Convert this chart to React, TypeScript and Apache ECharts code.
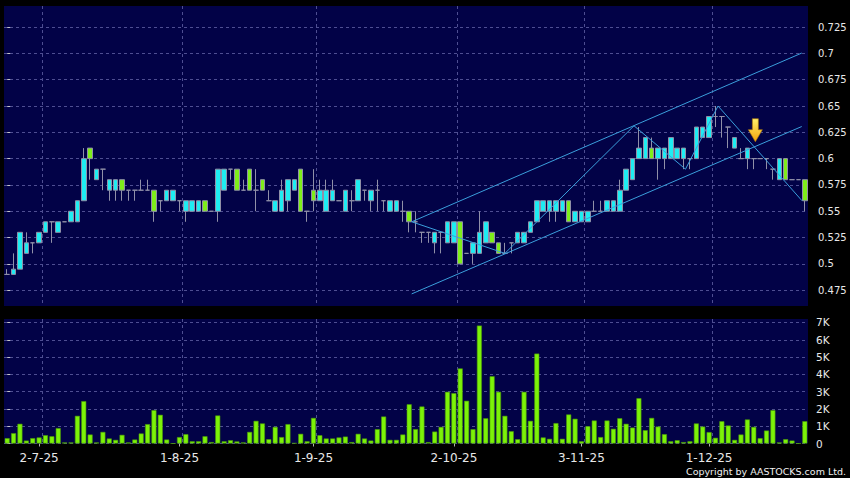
import React, { useEffect, useRef } from 'react';
import * as echarts from 'echarts';

// ---- data ----
const startDate = '2025-06-24';
const holidays = ['2025-07-01', '2025-10-01', '2025-10-07', '2025-10-29'];

// [open, close, low, high]
const ohlc: number[][] = [
  [0.49, 0.49, 0.49, 0.495], [0.49, 0.495, 0.49, 0.51], [0.495, 0.53, 0.495, 0.53], [0.51, 0.52, 0.51, 0.53],
  [0.52, 0.52, 0.51, 0.52], [0.52, 0.53, 0.52, 0.53], [0.53, 0.54, 0.53, 0.54], [0.54, 0.54, 0.52, 0.54],
  [0.53, 0.54, 0.53, 0.54], [0.54, 0.54, 0.54, 0.54], [0.54, 0.55, 0.54, 0.55], [0.54, 0.56, 0.54, 0.56],
  [0.56, 0.60, 0.56, 0.61], [0.61, 0.60, 0.58, 0.61], [0.58, 0.59, 0.58, 0.59], [0.59, 0.59, 0.57, 0.59],
  [0.57, 0.58, 0.56, 0.58], [0.57, 0.58, 0.56, 0.58], [0.58, 0.57, 0.56, 0.58], [0.57, 0.57, 0.56, 0.57],
  [0.57, 0.57, 0.56, 0.57], [0.57, 0.57, 0.57, 0.58], [0.57, 0.57, 0.57, 0.58], [0.57, 0.55, 0.54, 0.57],
  [0.56, 0.56, 0.55, 0.56], [0.56, 0.57, 0.56, 0.57], [0.56, 0.57, 0.56, 0.57], [0.56, 0.56, 0.55, 0.56],
  [0.55, 0.56, 0.54, 0.56], [0.55, 0.56, 0.55, 0.56], [0.55, 0.56, 0.55, 0.56], [0.56, 0.55, 0.55, 0.56],
  [0.55, 0.55, 0.55, 0.55], [0.55, 0.59, 0.54, 0.59], [0.57, 0.59, 0.57, 0.59], [0.59, 0.59, 0.58, 0.59],
  [0.59, 0.57, 0.57, 0.59], [0.57, 0.57, 0.57, 0.58], [0.59, 0.57, 0.57, 0.59], [0.57, 0.57, 0.55, 0.59],
  [0.58, 0.57, 0.57, 0.58], [0.56, 0.56, 0.56, 0.57], [0.55, 0.56, 0.55, 0.56], [0.55, 0.57, 0.55, 0.58],
  [0.56, 0.58, 0.55, 0.58], [0.57, 0.58, 0.57, 0.58], [0.59, 0.55, 0.55, 0.59], [0.55, 0.55, 0.54, 0.55],
  [0.57, 0.56, 0.55, 0.59], [0.56, 0.57, 0.56, 0.58], [0.55, 0.57, 0.55, 0.58], [0.56, 0.57, 0.56, 0.58],
  [0.56, 0.56, 0.56, 0.56], [0.55, 0.57, 0.55, 0.57], [0.56, 0.56, 0.55, 0.57], [0.56, 0.58, 0.56, 0.58],
  [0.57, 0.57, 0.56, 0.57], [0.56, 0.57, 0.55, 0.57], [0.57, 0.57, 0.55, 0.58], [0.56, 0.56, 0.55, 0.56],
  [0.55, 0.56, 0.55, 0.56], [0.55, 0.56, 0.55, 0.56], [0.55, 0.55, 0.54, 0.56], [0.55, 0.54, 0.53, 0.55],
  [0.54, 0.54, 0.53, 0.55], [0.53, 0.53, 0.52, 0.53], [0.53, 0.53, 0.52, 0.53], [0.52, 0.53, 0.51, 0.53],
  [0.53, 0.53, 0.51, 0.53], [0.52, 0.54, 0.52, 0.54], [0.52, 0.54, 0.52, 0.54], [0.54, 0.50, 0.50, 0.54],
  [0.51, 0.51, 0.51, 0.51], [0.51, 0.52, 0.50, 0.52], [0.51, 0.53, 0.51, 0.55], [0.52, 0.54, 0.52, 0.54],
  [0.53, 0.52, 0.52, 0.53], [0.52, 0.51, 0.51, 0.52], [0.51, 0.51, 0.51, 0.52], [0.52, 0.52, 0.51, 0.52],
  [0.52, 0.53, 0.52, 0.53], [0.52, 0.53, 0.52, 0.53], [0.53, 0.54, 0.53, 0.54], [0.54, 0.56, 0.54, 0.56],
  [0.55, 0.56, 0.55, 0.56], [0.55, 0.56, 0.54, 0.56], [0.55, 0.56, 0.54, 0.56], [0.55, 0.56, 0.55, 0.56],
  [0.56, 0.54, 0.54, 0.56], [0.54, 0.55, 0.54, 0.55], [0.54, 0.55, 0.54, 0.55], [0.54, 0.55, 0.54, 0.55],
  [0.55, 0.55, 0.55, 0.56], [0.55, 0.55, 0.55, 0.56], [0.55, 0.56, 0.55, 0.56], [0.55, 0.56, 0.55, 0.56],
  [0.55, 0.57, 0.55, 0.58], [0.57, 0.59, 0.57, 0.59], [0.58, 0.60, 0.58, 0.60], [0.60, 0.61, 0.60, 0.63],
  [0.60, 0.62, 0.60, 0.62], [0.61, 0.60, 0.60, 0.62], [0.60, 0.61, 0.58, 0.61], [0.60, 0.61, 0.59, 0.61],
  [0.60, 0.62, 0.60, 0.62], [0.60, 0.61, 0.60, 0.61], [0.60, 0.61, 0.59, 0.61], [0.60, 0.60, 0.59, 0.60],
  [0.60, 0.63, 0.60, 0.63], [0.62, 0.63, 0.62, 0.63], [0.62, 0.64, 0.62, 0.64], [0.64, 0.64, 0.63, 0.65],
  [0.64, 0.64, 0.62, 0.64], [0.63, 0.63, 0.61, 0.63], [0.61, 0.62, 0.61, 0.62], [0.60, 0.60, 0.60, 0.61],
  [0.60, 0.61, 0.59, 0.61], [0.60, 0.60, 0.59, 0.60], [0.60, 0.60, 0.60, 0.60], [0.60, 0.60, 0.59, 0.60],
  [0.59, 0.59, 0.58, 0.59], [0.58, 0.60, 0.58, 0.60], [0.60, 0.58, 0.58, 0.60], [0.58, 0.58, 0.58, 0.58],
  [0.58, 0.58, 0.58, 0.58], [0.58, 0.56, 0.55, 0.58],
];

// volume, thousands
const volumes: number[] = [
  0.31, 0.6, 1.14, 0.17, 0.31, 0.35, 0.48, 0.42, 0.89, 0.06, 0.06, 1.6, 2.45, 0.52, 0.06, 0.67,
  0.29, 0.21, 0.5, 0.06, 0.23, 0.58, 1.12, 1.93, 1.66, 0.23, 0, 0.37, 0.54, 0.13, 0.13, 0.42,
  0.08, 1.62, 0.13, 0.19, 0.12, 0.06, 0.67, 1.31, 1.16, 0.25, 0.96, 0.37, 1.12, 0.02, 0.56, 0.13,
  1.48, 0.48, 0.29, 0.29, 0.35, 0.4, 0.08, 0.56, 0.29, 0.17, 0.83, 1.56, 0.21, 0.21, 0.52, 2.27,
  0.83, 2.14, 0.08, 0.69, 0.96, 2.99, 2.91, 4.34, 2.47, 0.83, 6.82, 1.46, 3.89, 2.99, 1.6, 0.71,
  0.25, 2.99, 1.31, 5.2, 0.35, 0.27, 1.18, 0.27, 1.68, 1.43, 0.13, 1.0, 1.33, 0.37, 1.33, 0.85,
  1.46, 1.14, 0.92, 2.62, 0.77, 1.48, 0.98, 0.54, 0.13, 0.19, 0.08, 0.13, 1.16, 0.98, 0.66, 0.33,
  1.29, 1.04, 0.21, 0.52, 1.39, 0.96, 0.31, 0.75, 1.93, 0.06, 0.25, 0.17, 0, 1.29,
];

const priceTicks = [0.475, 0.5, 0.525, 0.55, 0.575, 0.6, 0.625, 0.65, 0.675, 0.7, 0.725];
const volumeTicks = [0, 1, 2, 3, 4, 5, 6, 7];

// trend lines, [bar index, price]
const channelUpper = [[63.39, 0.54], [124.52, 0.7003]];
const channelLower = [[63.39, 0.4715], [124.52, 0.6305]];
const zigzag = [[63.39, 0.54], [78.0, 0.51], [98.23, 0.6312], [106.3, 0.59], [111.4, 0.65], [124.56, 0.56]];
const arrowAt = [117.25, 0.627];

// ---- helpers ----
function tradingDays(start: string, n: number, off: string[]): string[] {
  const out: string[] = [];
  const d = new Date(start + 'T00:00:00Z');
  while (out.length < n) {
    const dow = d.getUTCDay();
    const iso = d.toISOString().slice(0, 10);
    if (dow !== 0 && dow !== 6 && off.indexOf(iso) < 0) out.push(iso);
    d.setUTCDate(d.getUTCDate() + 1);
  }
  return out;
}

const FONT = 'DejaVu Sans';
const NAVY = '#020247';
const GRID_LINE = { color: '#4e4e92', type: [3, 3] as any, width: 1 };
const CYAN = '#1eecf2';
const GREEN = '#7fee1a';
const WICK = '#9090a8';
const TREND = '#3b9fdc';

export default function App() {
  const ref = useRef<HTMLDivElement>(null);
  useEffect(() => {
    if (!ref.current) return;
    const chart = echarts.init(ref.current, undefined, { renderer: 'svg' });
    const n = ohlc.length;
    const dates = tradingDays(startDate, n, holidays);
    const monthStart = new Set<number>();
    dates.forEach((d, i) => {
      if (i > 0 && d.slice(5, 7) !== dates[i - 1].slice(5, 7)) monthStart.add(i);
    });
    const boundaries = Array.from(monthStart).map((i) => i + 0.5);
    const fmtDate = (iso: string) => {
      const [y, m, d] = iso.split('-');
      return `${parseInt(d, 10)}-${parseInt(m, 10)}-${y.slice(2)}`;
    };

    chart.setOption({
      animation: false,
      backgroundColor: '#000000',
      grid: [
        { left: 4, right: 42, top: 6, height: 300, show: true, backgroundColor: NAVY, borderWidth: 0 },
        { left: 4, right: 42, top: 319, height: 124.5, show: true, backgroundColor: NAVY, borderWidth: 0 },
      ],
      xAxis: [
        { type: 'category', gridIndex: 0, data: dates, boundaryGap: true, show: false },
        {
          type: 'value', gridIndex: 0, min: -0.5, max: n - 0.5,
          axisLine: { show: false }, axisLabel: { show: false },
          axisTick: { show: false, customValues: boundaries },
          splitLine: { show: true, lineStyle: GRID_LINE },
        },
        {
          type: 'category', gridIndex: 1, data: dates, boundaryGap: true, offset: 3,
          axisLine: { show: false },
          axisTick: {
            show: true, alignWithLabel: true, length: 3,
            interval: (i: number) => monthStart.has(i),
            lineStyle: { color: '#b0b0b0' },
          },
          axisLabel: {
            interval: (i: number) => monthStart.has(i),
            formatter: (v: string) => fmtDate(v),
            color: '#e8e8e8', fontSize: 12, fontFamily: FONT, margin: 5,
          },
          splitLine: { show: false },
        },
        {
          type: 'value', gridIndex: 1, min: -0.5, max: n - 0.5,
          axisLine: { show: false }, axisLabel: { show: false },
          axisTick: { show: false, customValues: boundaries },
          splitLine: { show: true, lineStyle: GRID_LINE },
        },
      ],
      yAxis: [
        {
          type: 'value', gridIndex: 0, position: 'right', min: 0.46, max: 0.745, offset: 4,
          axisLine: { show: false },
          axisTick: { show: true, length: 3, customValues: priceTicks, lineStyle: { color: '#c8c8c8' } },
          axisLabel: {
            customValues: priceTicks, color: '#e8e8e8', fontSize: 10, fontFamily: FONT, margin: 6,
            formatter: (v: number) => String(v),
          },
          splitLine: { show: true, lineStyle: GRID_LINE },
        },
        {
          type: 'value', gridIndex: 1, position: 'right', min: 0, max: 7.2, offset: 1,
          axisLine: { show: false },
          axisTick: { show: true, length: 3, customValues: volumeTicks, lineStyle: { color: '#c8c8c8' } },
          axisLabel: {
            customValues: volumeTicks, color: '#e8e8e8', fontSize: 10.5, fontFamily: FONT, margin: 7,
            formatter: (v: number) => (v === 0 ? '0' : `${v}K`),
          },
          splitLine: { show: true, lineStyle: GRID_LINE },
        },
      ],
      series: [
        {
          type: 'candlestick', xAxisIndex: 0, yAxisIndex: 0, barWidth: 5,
          data: ohlc.map(([o, c, l, h]) => [o, c, l, h]),
          itemStyle: {
            color: CYAN, color0: GREEN,
            borderColor: WICK, borderColor0: WICK, borderColorDoji: WICK, borderWidth: 1,
          },
        },
        {
          type: 'line', xAxisIndex: 1, yAxisIndex: 0, data: channelUpper, symbol: 'none',
          lineStyle: { color: TREND, width: 1 }, z: 5,
        },
        {
          type: 'line', xAxisIndex: 1, yAxisIndex: 0, data: channelLower, symbol: 'none',
          lineStyle: { color: TREND, width: 1 }, z: 5,
        },
        {
          type: 'line', xAxisIndex: 1, yAxisIndex: 0, data: zigzag, symbol: 'none',
          lineStyle: { color: TREND, width: 1 }, z: 5,
          markPoint: {
            silent: true,
            symbol: 'path://M4,0 L10,0 L10,11 L14,11 L7,23 L0,11 L4,11 Z',
            symbolSize: [14, 23],
            label: { show: false },
            itemStyle: {
              color: new echarts.graphic.LinearGradient(0, 0, 0, 1, [
                { offset: 0, color: '#fff06a' },
                { offset: 1, color: '#f2a20c' },
              ]),
              borderColor: '#b07808', borderWidth: 0.6,
            },
            data: [{ coord: arrowAt }],
          },
        },
        {
          type: 'bar', xAxisIndex: 2, yAxisIndex: 1, barWidth: 5, data: volumes,
          itemStyle: { color: '#7cf208', borderColor: '#4c9a0a', borderWidth: 0.6 },
        },
      ],
      graphic: [
        {
          type: 'text', right: 4, bottom: 2,
          style: { text: 'Copyright by AASTOCKS.com Ltd.', fill: '#f0f0f0', font: `9.5px "${FONT}"` },
        },
      ],
    });
    return () => chart.dispose();
  }, []);
  return (
    <div
      ref={ref}
      style={{ position: 'absolute', left: 0, top: 0, width: 850, height: 478, background: '#000' }}
    />
  );
}
